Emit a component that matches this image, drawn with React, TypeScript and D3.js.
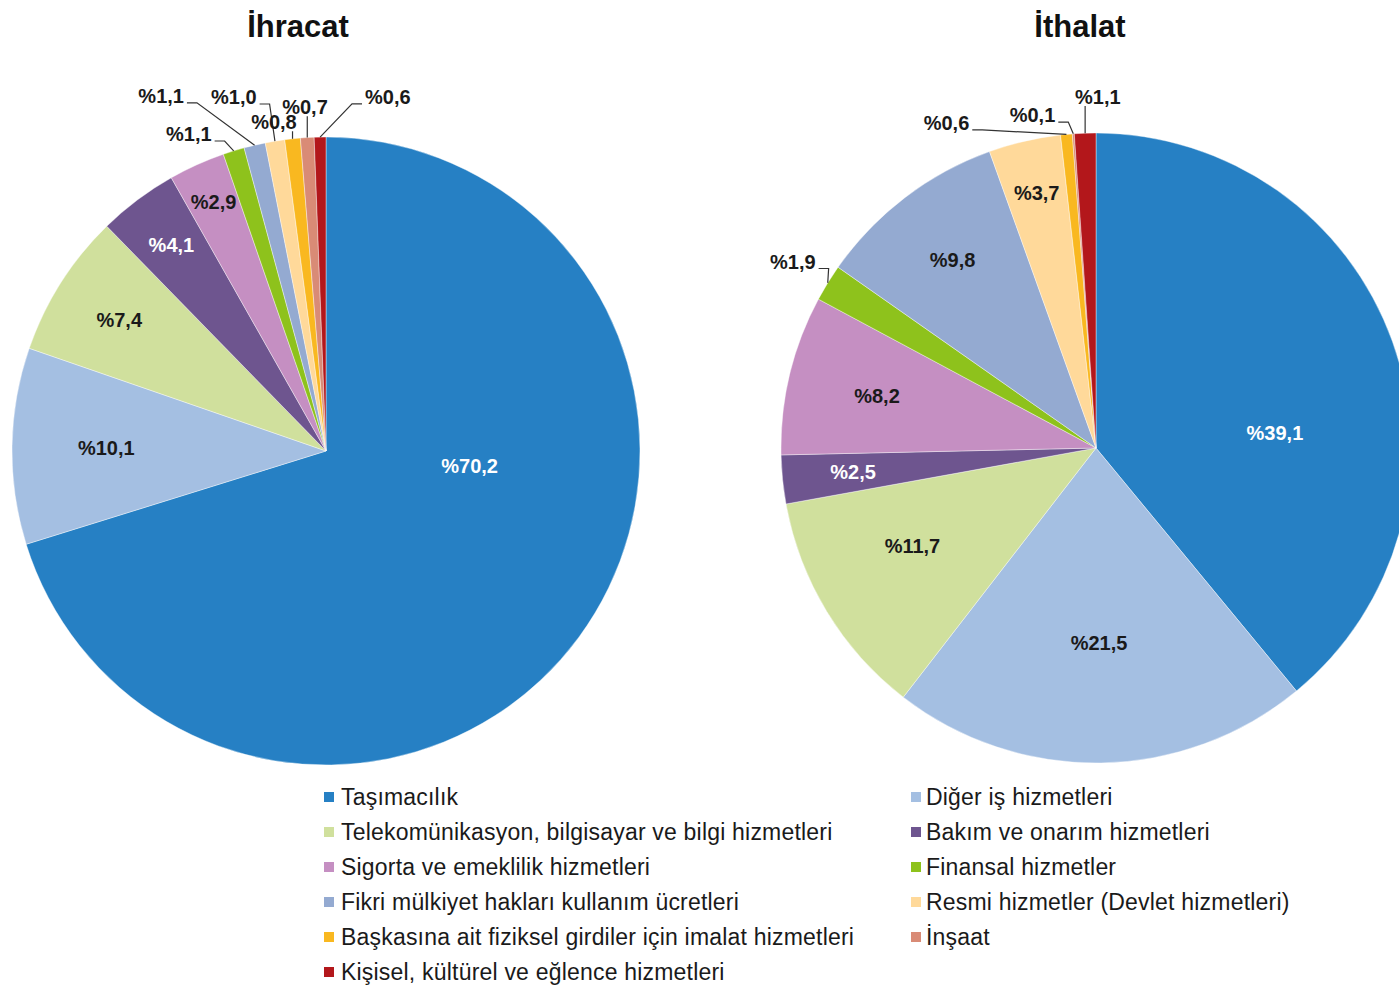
import { useEffect, useRef } from 'react';
import * as d3 from 'd3';

const categories = [
    'Taşımacılık',
    'Diğer iş hizmetleri',
    'Telekomünikasyon, bilgisayar ve bilgi hizmetleri',
    'Bakım ve onarım hizmetleri',
    'Sigorta ve emeklilik hizmetleri',
    'Finansal hizmetler',
    'Fikri mülkiyet hakları kullanım ücretleri',
    'Resmi hizmetler (Devlet hizmetleri)',
    'Başkasına ait fiziksel girdiler için imalat hizmetleri',
    'İnşaat',
    'Kişisel, kültürel ve eğlence hizmetleri'
];

const sliceColors = [
    '#2680C4', '#A4BFE2', '#D0E09D', '#6E558F', '#C58FC2', '#8EC21C',
    '#94AAD1', '#FFD99A', '#F9B820', '#D98B76', '#B3171B'
];

const exportShares = [70.2, 10.1, 7.4, 4.1, 2.9, 1.1, 1.1, 1.0, 0.8, 0.7, 0.6];
const importShares = [39.1, 21.5, 11.7, 2.5, 8.2, 1.9, 9.8, 3.7, 0.6, 0.1, 1.1];

const titles = ['İhracat', 'İthalat'];

// label placement relative to each slice: r = fraction of radius, a = angle override (deg), out = leader line
type LabelPos = { r: number; a?: number; out?: boolean };

const exportLabelLayout: LabelPos[] = [
    { r: 0.46, a: 96 }, { r: 0.70 }, { r: 0.78 }, { r: 0.82 }, { r: 0.87 },
    { r: 1.10, a: 336.6, out: true }, { r: 1.247, a: 335.1, out: true },
    { r: 1.165, a: 345.4, out: true }, { r: 1.06, a: 351.0, out: true },
    { r: 1.097, a: 356.5, out: true }, { r: 1.145, a: 9.9, out: true }
];

const importLabelLayout: LabelPos[] = [
    { r: 0.57, a: 85.2 }, { r: 0.62 }, { r: 0.66, a: 242 }, { r: 0.775 }, { r: 0.715 },
    { r: 1.13, a: 301.6, out: true }, { r: 0.75 }, { r: 0.83 },
    { r: 1.136, a: 335.3, out: true }, { r: 1.076, a: 349.2, out: true },
    { r: 1.114, a: 0.3, out: true }
];

const whiteLabels = [0, 3];

const fmt = (v: number) => '%' + v.toFixed(1).replace('.', ',');

export default function App() {
    const svgRef = useRef<SVGSVGElement>(null);

    useEffect(() => {
        if (!svgRef.current) return;
        document.body.style.margin = '0';

        const svg = d3.select(svgRef.current);
        svg.selectAll('*').remove();

        const pie = d3.pie<number>().sort(null).value(d => d);

        const charts = [
            { title: titles[0], values: exportShares, layout: exportLabelLayout, cx: 326, cy: 451, r: 314, titleX: 298 },
            { title: titles[1], values: importShares, layout: importLabelLayout, cx: 1096, cy: 448, r: 315, titleX: 1080 }
        ];

        charts.forEach(c => {
            svg.append('text')
                .attr('x', c.titleX)
                .attr('y', 37)
                .attr('text-anchor', 'middle')
                .style('font-family', "'Liberation Sans', Arial, sans-serif")
                .style('font-weight', 'bold')
                .style('font-size', '31px')
                .style('fill', '#111')
                .text(c.title);

            const g = svg.append('g').attr('transform', `translate(${c.cx},${c.cy})`);
            const arcs = pie(c.values);
            const arc = d3.arc<d3.PieArcDatum<number>>().innerRadius(0).outerRadius(c.r);

            g.selectAll('path.slice')
                .data(arcs)
                .enter()
                .append('path')
                .attr('class', 'slice')
                .attr('d', arc)
                .attr('fill', (_, i) => sliceColors[i])
                .attr('stroke', '#fff')
                .attr('stroke-width', 0.4);

            arcs.forEach((d, i) => {
                const lay = c.layout[i];
                const mid = (d.startAngle + d.endAngle) / 2;
                const ang = lay.a != null ? (lay.a * Math.PI) / 180 : mid;
                const lr = lay.r * c.r;
                const lx = Math.sin(ang) * lr;
                const ly = -Math.cos(ang) * lr;

                const txt = g.append('text')
                    .attr('x', lx)
                    .attr('y', ly)
                    .attr('text-anchor', 'middle')
                    .attr('dominant-baseline', 'central')
                    .style('font-family', "'Liberation Sans', Arial, sans-serif")
                    .style('font-weight', 'bold')
                    .style('font-size', '20px')
                    .style('fill', whiteLabels.includes(i) && !lay.out ? '#fff' : '#1a1a1a')
                    .text(fmt(d.data));

                if (!lay.out) return;

                const bb = (txt.node() as SVGTextElement).getBBox();
                const left = bb.x;
                const right = bb.x + bb.width;
                const bottom = ly + 7;
                const px = Math.sin(mid) * c.r;
                const py = -Math.cos(mid) * c.r;

                let pts: [number, number][];
                if (px >= left && px <= right) {
                    pts = [[px, bottom + 2], [px, py]];
                } else if (px > right) {
                    pts = [[right + 3, bottom], [right + 13, bottom], [px, py]];
                } else {
                    pts = [[left - 3, bottom], [left - 13, bottom], [px, py]];
                }

                g.append('path')
                    .attr('d', d3.line()(pts))
                    .attr('fill', 'none')
                    .attr('stroke', '#333')
                    .attr('stroke-width', 1.2);
            });
        });

        // legend
        const legend = svg.append('g');
        categories.forEach((name, i) => {
            const col = i % 2;
            const row = Math.floor(i / 2);
            const y = 797 + row * 35;
            const sx = col === 0 ? 324 : 911;
            legend.append('rect')
                .attr('x', sx)
                .attr('y', y - 5)
                .attr('width', 10)
                .attr('height', 10)
                .attr('fill', sliceColors[i]);
            legend.append('text')
                .attr('x', col === 0 ? 341 : 926)
                .attr('y', y)
                .attr('dominant-baseline', 'central')
                .style('font-family', "'Liberation Sans', Arial, sans-serif")
                .style('font-size', '23px')
                .style('letter-spacing', '0.2px')
                .style('fill', '#1a1a1a')
                .text(name);
        });
    }, []);

    return (
        <svg
            ref={svgRef}
            width={1399}
            height={989}
            style={{ display: 'block', background: '#fff' }}
        />
    );
}
